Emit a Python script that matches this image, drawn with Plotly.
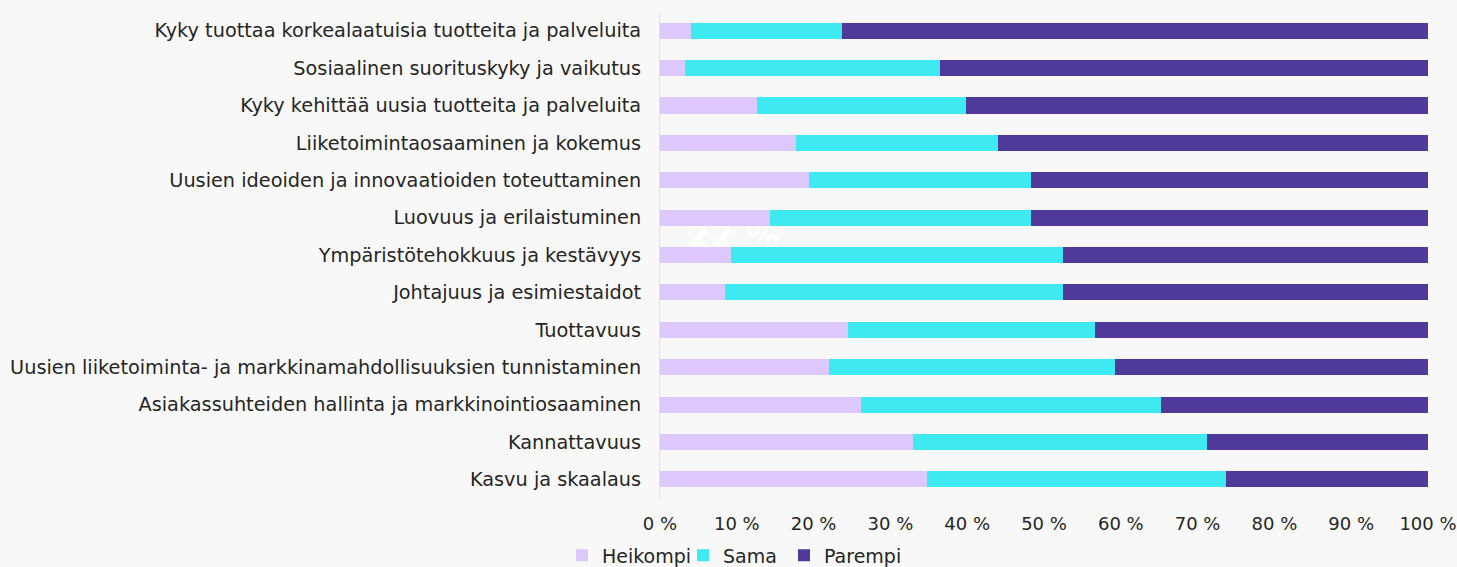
import plotly.graph_objects as go

categories = [
    "Kyky tuottaa korkealaatuisia tuotteita ja palveluita",
    "Sosiaalinen suorituskyky ja vaikutus",
    "Kyky kehittää uusia tuotteita ja palveluita",
    "Liiketoimintaosaaminen ja kokemus",
    "Uusien ideoiden ja innovaatioiden toteuttaminen",
    "Luovuus ja erilaistuminen",
    "Ympäristötehokkuus ja kestävyys",
    "Johtajuus ja esimiestaidot",
    "Tuottavuus",
    "Uusien liiketoiminta- ja markkinamahdollisuuksien tunnistaminen",
    "Asiakassuhteiden hallinta ja markkinointiosaaminen",
    "Kannattavuus",
    "Kasvu ja skaalaus",
]
heikompi = [4.1, 3.3, 12.6, 17.7, 19.4, 14.3, 9.2, 8.4, 24.5, 22.0, 26.2, 33.0, 34.7]
sama = [19.6, 33.1, 27.2, 26.3, 28.9, 34.0, 43.3, 44.1, 32.2, 37.3, 39.0, 38.2, 39.0]
parempi = [76.3, 63.6, 60.2, 56.0, 51.7, 51.7, 47.5, 47.5, 43.3, 40.7, 34.8, 28.8, 26.3]

tick_vals = [0, 10, 20, 30, 40, 50, 60, 70, 80, 90, 100]
tick_text = [f"{v} %" for v in tick_vals]

series = [
    ("Heikompi", heikompi, "#DCC8FC", 76),
    ("Sama", sama, "#3EEAF0", 56),
    ("Parempi", parempi, "#4F3A99", None),
]

FONT = "DejaVu Sans"
TXT = "#262626"
fig = go.Figure()
for name, vals, col, lw in series:
    fig.add_trace(go.Bar(
        y=categories, x=vals, name=name, orientation="h",
        marker=dict(color=col, line=dict(width=0)),
        legendwidth=lw,
    ))

fig.add_shape(
    type="rect", xref="x", yref="y", x0=3, x1=16, y0=5.2, y1=5.7,
    line=dict(width=0), fillcolor="rgba(0,0,0,0)", layer="below",
    label=dict(text="<b>22 %</b>", font=dict(size=34, color="white", family=FONT), textposition="middle center"),
)

fig.update_layout(
    barmode="stack",
    bargap=0.57,
    width=1457, height=567,
    margin=dict(l=660, r=29, t=12, b=69, autoexpand=False),
    paper_bgcolor="#F8F8F8",
    plot_bgcolor="#F8F8F8",
    font=dict(family=FONT, size=19.3, color=TXT),
    legend=dict(
        orientation="h", x=-0.1276, xanchor="left", y=-0.118, yanchor="middle",
        font=dict(size=19, color=TXT), traceorder="normal",
        itemwidth=30, bgcolor="rgba(0,0,0,0)",
    ),
    xaxis=dict(
        range=[0, 100], tickvals=tick_vals, ticktext=tick_text,
        showgrid=False, zeroline=False, showline=False, automargin=False,
        ticks="outside", ticklen=9, tickcolor="rgba(0,0,0,0)",
        tickfont=dict(size=18, color=TXT),
    ),
    yaxis=dict(
        autorange="reversed", showgrid=False, zeroline=False, automargin=False,
        showline=True, linecolor="#E4E0F0", linewidth=1,
        ticks="outside", ticklen=14, tickcolor="rgba(0,0,0,0)",
        tickfont=dict(size=19.3, color=TXT),
    ),
)

fig.write_html(
    "out.html",
    config={"displayModeBar": False},
    post_script="document.documentElement.style.overflow='hidden';document.body.style.margin='0';document.body.style.overflow='hidden';document.body.style.background='#F8F8F8';",
)
